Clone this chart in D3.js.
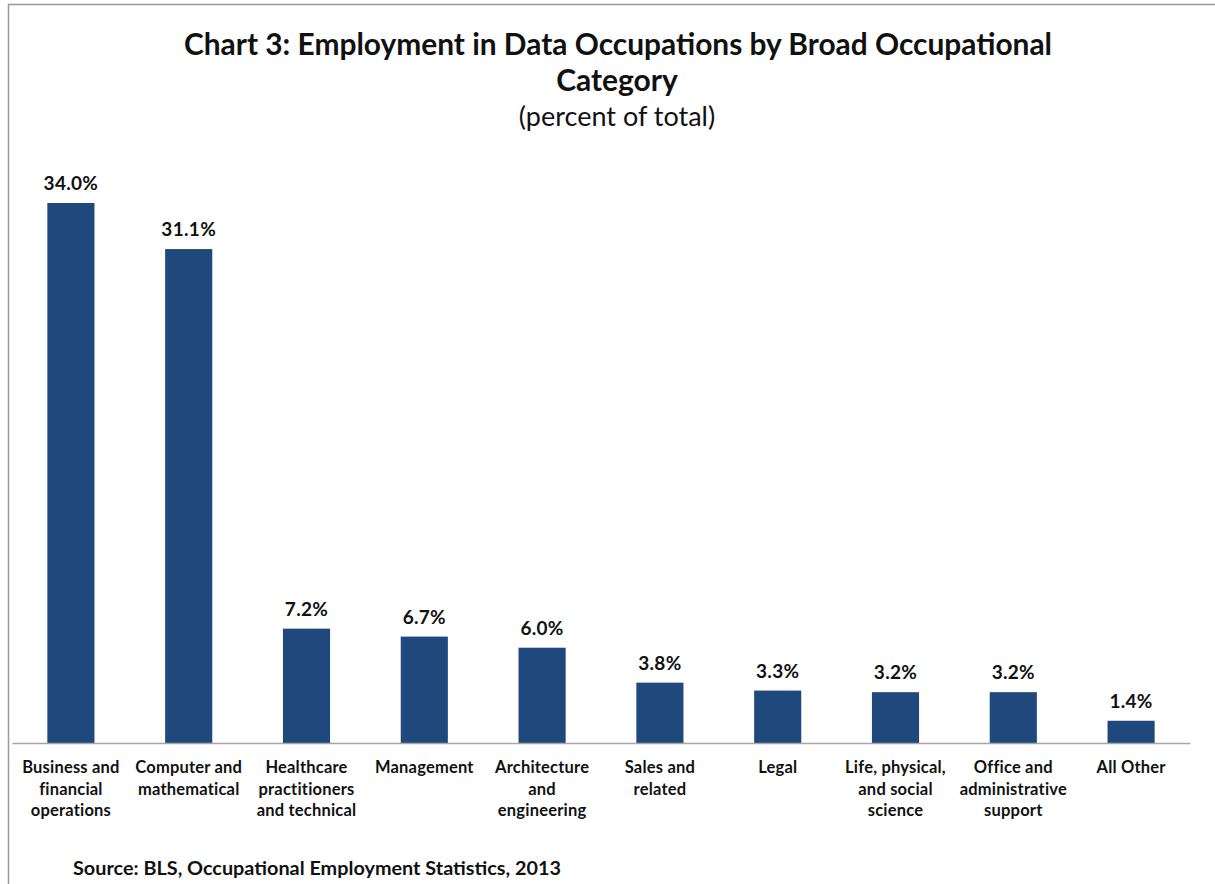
<!DOCTYPE html>
<html>
<head>
<meta charset="utf-8">
<script src="https://cdn.jsdelivr.net/npm/d3@7"></script>
<style>
  html, body { margin: 0; padding: 0; background: #fff; }
  svg { display: block; }
  text { font-family: Lato, "Open Sans", sans-serif; fill: #111; }
</style>
</head>
<body>
<svg id="chart" width="1215" height="884"></svg>
<script>
// Share of employment in data occupations by broad occupational category (percent)
const categories = [
  ["Business and", "financial", "operations"],
  ["Computer and", "mathematical"],
  ["Healthcare", "practitioners", "and technical"],
  ["Management"],
  ["Architecture", "and", "engineering"],
  ["Sales and", "related"],
  ["Legal"],
  ["Life, physical,", "and social", "science"],
  ["Office and", "administrative", "support"],
  ["All Other"]
];
const values = [34.0, 31.1, 7.2, 6.7, 6.0, 3.8, 3.3, 3.2, 3.2, 1.4];

const titleLines = ["Chart 3: Employment in Data Occupations by Broad Occupational", "Category"];
const subtitle = "(percent of total)";
const source = "Source: BLS, Occupational Employment Statistics, 2013";

const svg = d3.select("#chart");
const W = 1215, H = 884;

// Outer frame (top and left edges)
svg.append("path")
  .attr("d", `M8.5,${H} V4.5 H${W}`)
  .attr("fill", "none")
  .attr("stroke", "#9a9a9a")
  .attr("stroke-width", 1.5);

const plot = { left: 12, right: 1190, baseline: 743 };

const x = d3.scaleBand()
  .domain(d3.range(values.length))
  .range([plot.left, plot.right])
  .paddingInner(0.6)
  .paddingOuter(0.3);

const y = d3.scaleLinear()
  .domain([0, 34])
  .range([plot.baseline, 203]);

// Bars
svg.append("g")
  .selectAll("rect")
  .data(values)
  .join("rect")
  .attr("x", (d, i) => x(i))
  .attr("y", d => y(d))
  .attr("width", x.bandwidth())
  .attr("height", d => y(0) - y(d))
  .attr("fill", "#1f497d");

// Value labels
svg.append("g")
  .selectAll("text")
  .data(values)
  .join("text")
  .attr("x", (d, i) => x(i) + x.bandwidth() / 2)
  .attr("y", d => y(d) - 13)
  .attr("text-anchor", "middle")
  .attr("font-size", 19)
  .attr("font-weight", 700)
  .attr("letter-spacing", 0.3)
  .text(d => d.toFixed(1) + "%");

// Category axis
const xAxis = d3.axisBottom(x).tickSize(0).tickFormat("");
const axisG = svg.append("g")
  .attr("transform", `translate(0,${plot.baseline})`)
  .call(xAxis);
axisG.select(".domain").attr("stroke", "#a6a6a6").attr("stroke-width", 1.5);

axisG.selectAll(".tick").each(function(d) {
  const t = d3.select(this).append("text")
    .attr("text-anchor", "middle")
    .attr("font-size", 16.5)
    .attr("font-weight", 700)
    .attr("letter-spacing", 0.2)
    .attr("fill", "#111");
  categories[d].forEach((line, k) => {
    t.append("tspan")
      .attr("x", 0)
      .attr("y", 30 + k * 21.5)
      .text(line);
  });
});

// Titles
svg.append("text")
  .attr("x", 618).attr("y", 55)
  .attr("text-anchor", "middle")
  .attr("font-size", 30).attr("font-weight", 700)
  .attr("textLength", 868).attr("lengthAdjust", "spacingAndGlyphs")
  .text(titleLines[0]);
svg.append("text")
  .attr("x", 617).attr("y", 91)
  .attr("text-anchor", "middle")
  .attr("font-size", 30).attr("font-weight", 700)
  .text(titleLines[1]);
svg.append("text")
  .attr("x", 617).attr("y", 126)
  .attr("text-anchor", "middle")
  .attr("font-size", 27)
  .text(subtitle);

// Source note
svg.append("text")
  .attr("x", 73).attr("y", 875)
  .attr("font-size", 19).attr("font-weight", 700)
  .attr("textLength", 488).attr("lengthAdjust", "spacingAndGlyphs")
  .text(source);
</script>
</body>
</html>
